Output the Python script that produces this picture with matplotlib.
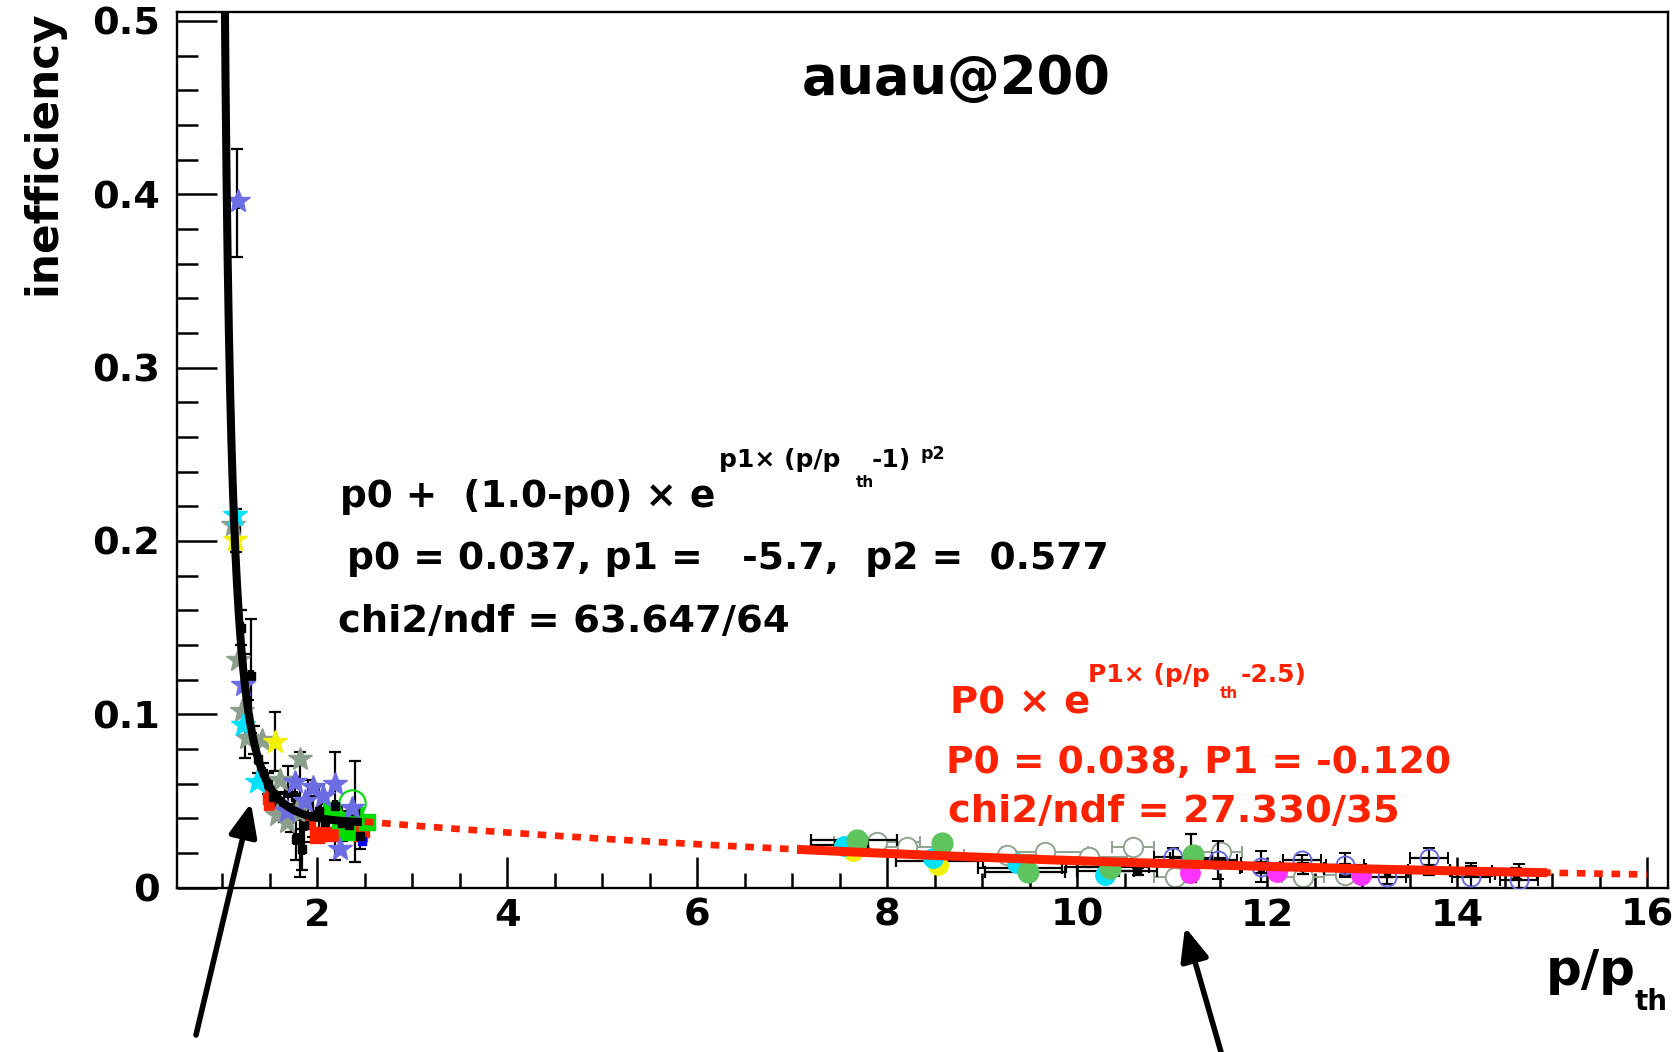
import numpy as np
import matplotlib
matplotlib.use("Agg")
import matplotlib.pyplot as plt
from matplotlib.patches import FancyArrowPatch, ArrowStyle
from matplotlib.ticker import MultipleLocator, FuncFormatter

# ---------------------------------------------------------------- fit results
p0, p1, p2 = 0.037, -5.7, 0.577          # low-momentum fit
P0, P1 = 0.038, -0.120                    # high-momentum fit
low_fit_range = (1.005, 2.47)
high_fit_range = (7.05, 14.95)
high_func_range = (2.5, 16.0)

# ---------------------------------------------------------------- low p/p_th data
blk_lo_x = [1.16, 1.14, 1.20, 1.24, 1.30, 1.27, 1.33, 1.38, 1.43, 1.48, 1.56, 1.53,
            1.60, 1.65, 1.69, 1.72, 1.77, 1.78, 1.82, 1.84, 1.86, 1.90, 1.96, 2.02,
            2.08, 2.19, 2.26, 2.33, 2.40, 2.45]
blk_lo_y = [0.395, 0.206, 0.150, 0.105, 0.122, 0.098, 0.085, 0.074, 0.066, 0.060, 0.084, 0.052,
            0.049, 0.046, 0.055, 0.040, 0.052, 0.028, 0.042, 0.022, 0.036, 0.048, 0.041, 0.044,
            0.038, 0.047, 0.037, 0.036, 0.044, 0.030]
blk_lo_yerr = [0.031, 0.0125, 0.010, 0.030, 0.033, 0.010, 0.008, 0.008, 0.006, 0.006, 0.017, 0.006,
               0.006, 0.008, 0.015, 0.008, 0.012, 0.012, 0.036, 0.012, 0.010, 0.014, 0.012, 0.015,
               0.010, 0.031, 0.010, 0.008, 0.029, 0.008]

grey_star_x = [1.116, 1.168, 1.21, 1.26, 1.42, 1.61, 1.58, 1.68, 1.79, 1.82]
grey_star_y = [0.209, 0.131, 0.102, 0.086, 0.085, 0.062, 0.042, 0.038, 0.044, 0.074]

blue_star_x = [1.17, 1.22, 1.68, 1.77, 1.87, 1.96, 2.06, 2.19, 2.24, 2.37]
blue_star_y = [0.396, 0.117, 0.044, 0.061, 0.050, 0.058, 0.053, 0.060, 0.022, 0.046]

yellow_star_x = [1.137, 1.56]
yellow_star_y = [0.2005, 0.084]

cyan_star_x = [1.137, 1.22, 1.365]
cyan_star_y = [0.215, 0.094, 0.061]

red_sq_x = [1.505, 1.51, 1.905, 2.00, 2.03, 2.14, 2.45, 2.47]
red_sq_y = [0.052, 0.049, 0.038, 0.030, 0.031, 0.031, 0.031, 0.033]

green_sq_x = [2.14, 2.24, 2.31, 2.40, 2.52]
green_sq_y = [0.045, 0.039, 0.032, 0.042, 0.038]

green_ring_x = [2.37]
green_ring_y = [0.0486]

blue_sq_x = [2.47]
blue_sq_y = [0.027]

# ---------------------------------------------------------------- high p/p_th data
blk_hi_x = [7.65, 7.50, 8.55, 9.40, 9.45, 10.32, 10.30, 10.64, 11.20, 11.50, 11.93,
            12.38, 12.82, 13.26, 13.70, 14.15, 14.62]
blk_hi_y = [0.0272, 0.0245, 0.0152, 0.0110, 0.0090, 0.0120, 0.0098, 0.0095, 0.0170, 0.0140,
            0.0115, 0.0110, 0.0105, 0.0090, 0.0100, 0.0095, 0.0080]
blk_hi_xerr = [0.45, 0.30, 0.46, 0.44, 0.42, 0.44, 0.30, 0.20, 0.22, 0.22, 0.22,
               0.22, 0.22, 0.22, 0.22, 0.22, 0.22]
blk_hi_yerr = [0.002, 0.002, 0.002, 0.002, 0.002, 0.002, 0.002, 0.002, 0.0138, 0.003, 0.003,
               0.003, 0.003, 0.003, 0.003, 0.003, 0.003]

green_dot_x = [7.68, 8.58, 9.48, 10.35, 11.22]
green_dot_y = [0.0274, 0.0257, 0.0091, 0.0112, 0.0188]

yellow_dot_x = [7.64, 8.54]
yellow_dot_y = [0.021, 0.013]

cyan_dot_x = [7.54, 8.48, 9.37, 10.29]
cyan_dot_y = [0.024, 0.017, 0.014, 0.0072]

magenta_dot_x = [11.19, 12.10, 12.99]
magenta_dot_y = [0.0082, 0.0090, 0.0072]

grey_ring_x = [7.89, 8.21, 9.26, 9.66, 10.12, 10.59, 11.03, 11.51, 12.38, 12.82]
grey_ring_y = [0.0264, 0.0236, 0.0187, 0.0207, 0.0178, 0.0236, 0.0060, 0.0207, 0.0062, 0.0072]
grey_ring_xerr = [0.45, 0.45, 0.45, 0.45, 0.40, 0.22, 0.22, 0.22, 0.22, 0.22]
grey_ring_yerr = [0.002, 0.002, 0.002, 0.002, 0.002, 0.003, 0.003, 0.003, 0.003, 0.003]

blue_ring_x = [11.01, 11.48, 11.93, 12.37, 12.82, 13.26, 13.70, 14.15, 14.65]
blue_ring_y = [0.0178, 0.0159, 0.0120, 0.0159, 0.0130, 0.0062, 0.0168, 0.0062, 0.0043]
blue_ring_yerr = [0.005, 0.011, 0.009, 0.003, 0.007, 0.004, 0.006, 0.008, 0.009]

# ---------------------------------------------------------------- axis setup
x_limits = (0.52, 16.22)
y_limits = (0.0, 0.505)
x_major, x_minor = 2, 0.5
y_major, y_minor = 0.1, 0.02

W, H, DPI = 1677, 1052, 100
RED = "#ff2200"
FONT = "DejaVu Sans"

fig = plt.figure(figsize=(W / DPI, H / DPI), dpi=DPI)
fig.patch.set_facecolor("white")
ax = fig.add_axes([176.7 / W, (H - 887.5) / H, (1668 - 176.7) / W, (887.5 - 12.3) / H])
ax.set_xlim(*x_limits)
ax.set_ylim(*y_limits)
for s in ax.spines.values():
    s.set_linewidth(1.7)

ax.xaxis.set_major_locator(MultipleLocator(x_major))
ax.xaxis.set_minor_locator(MultipleLocator(x_minor))
ax.yaxis.set_major_locator(MultipleLocator(y_major))
ax.yaxis.set_minor_locator(MultipleLocator(y_minor))
ax.xaxis.set_major_formatter(FuncFormatter(lambda v, p: f"{v:.0f}"))
ax.yaxis.set_major_formatter(FuncFormatter(lambda v, p: "0" if abs(v) < 1e-9 else f"{v:.1f}"))
ax.tick_params(axis="both", which="both", direction="in", top=False, right=False, width=1.8)
ax.tick_params(axis="y", which="major", length=29, pad=12)
ax.tick_params(axis="y", which="minor", length=15)
ax.tick_params(axis="x", which="major", length=22, pad=7.5)
ax.tick_params(axis="x", which="minor", length=11)
for lab in ax.get_xticklabels() + ax.get_yticklabels():
    lab.set_fontfamily(FONT)
    lab.set_fontweight("bold")
    lab.set_fontsize(27.5)

# ---------------------------------------------------------------- data points
eb = dict(capsize=4, elinewidth=1.6, capthick=1.6, linestyle="none")

# low-momentum region
ax.errorbar(blk_lo_x, blk_lo_y, yerr=blk_lo_yerr, xerr=0.02, fmt="s", color="black",
            ms=5.5, zorder=3, **eb)
ax.plot(grey_star_x, grey_star_y, "*", color="#8c9e8c", ms=18, mec="#8c9e8c", zorder=4)
ax.plot(blue_star_x, blue_star_y, "*", color="#6d6de3", ms=18, zorder=4)
ax.plot(yellow_star_x, yellow_star_y, "*", color="#f2f200", ms=18, zorder=4)
ax.plot(cyan_star_x, cyan_star_y, "*", color="#00e0ff", ms=18, zorder=4)
ax.plot(red_sq_x, red_sq_y, "s", color=RED, ms=10.5, zorder=3)
ax.plot(green_sq_x, green_sq_y, "s", color="#00dd00", ms=11, zorder=3)
ax.plot(green_ring_x, green_ring_y, "o", mfc="none", mec="#00dd00", mew=1.5, ms=19, zorder=3)
ax.plot(blue_sq_x, blue_sq_y, "s", color="#0000ff", ms=6, zorder=3)

# high-momentum region
ax.errorbar(grey_ring_x, grey_ring_y, xerr=grey_ring_xerr, yerr=grey_ring_yerr, fmt="o",
            mfc="white", mec="#8fa38f", ms=14, mew=1.4, ecolor="#8fa38f", capsize=4,
            elinewidth=1.4, linestyle="none", zorder=2)
ax.errorbar(blk_hi_x, blk_hi_y, xerr=blk_hi_xerr, yerr=blk_hi_yerr, fmt="s", color="black",
            ms=5, zorder=3, **eb)
ax.errorbar(blue_ring_x, blue_ring_y, yerr=blue_ring_yerr, xerr=0.2, fmt="o", mfc="none",
            mec="#6b6be0", ms=13, mew=1.4, ecolor="black", capsize=4, elinewidth=1.6,
            linestyle="none", zorder=3)
ax.plot(yellow_dot_x, yellow_dot_y, "o", color="#f2f200", ms=14, zorder=4)
ax.plot(cyan_dot_x, cyan_dot_y, "o", color="#00e0ff", ms=14, zorder=4)
ax.plot(green_dot_x, green_dot_y, "o", color="#5ec45e", ms=15, zorder=4)
ax.plot(magenta_dot_x, magenta_dot_y, "o", color="#ff33ff", ms=14, zorder=4)

# ---------------------------------------------------------------- fit functions
xl = np.linspace(*low_fit_range, 800)
ax.plot(xl, p0 + (1.0 - p0) * np.exp(p1 * (xl - 1.0) ** p2), color="black", lw=5.8,
        solid_capstyle="butt", zorder=6)

xf = np.linspace(*high_func_range, 500)
ax.plot(xf, P0 * np.exp(P1 * (xf - 2.5)), color=RED, lw=4.8, dashes=(1.3, 1.3),
        dash_capstyle="butt", zorder=5)
xs = np.linspace(*high_fit_range, 200)
ax.plot(xs, P0 * np.exp(P1 * (xs - 2.5)), color=RED, lw=6.5, solid_capstyle="butt", zorder=6)


# ---------------------------------------------------------------- text
def ftext(x_px, y_px, s, size, color="black", **kw):
    fig.text(x_px / W, 1 - y_px / H, s, fontsize=size, color=color, fontfamily=FONT,
             fontweight="bold", ha="left", va="baseline", **kw)


ftext(802, 94, "auau@200", 38)

ftext(340, 507, "p0 +  (1.0-p0) \u00d7 e", 27.0)
ftext(719, 467, "p1\u00d7 (p/p", 18)
ftext(856, 487, "th", 11)
ftext(872, 467, "-1)", 18)
ftext(920, 459, "p2", 12.5)
ftext(347, 569, "p0 = 0.037, p1 =   -5.7,  p2 =  0.577", 27.2)
ftext(338, 632, "chi2/ndf = 63.647/64", 27.7)

ftext(950, 713, "P0 \u00d7 e", 27.7, RED)
ftext(1088, 682, "P1\u00d7 (p/p", 18, RED)
ftext(1220, 698, "th", 11, RED)
ftext(1241, 682, "-2.5)", 18, RED)
ftext(946, 773, "P0 = 0.038, P1 = -0.120", 27.2, RED)
ftext(948, 822, "chi2/ndf = 27.330/35", 27.7, RED)

# axis titles
fig.text(43 / W, 1 - 10 / H, "inefficiency", rotation=90, fontsize=31.5, fontfamily=FONT,
         fontweight="bold", ha="center", va="top")
fig.text(1636 / W, 1 - 985 / H, "p/p", fontsize=36, fontfamily=FONT, fontweight="bold",
         ha="right", va="baseline")
fig.text(1635 / W, 1 - 1010 / H, "th", fontsize=20, fontfamily=FONT, fontweight="bold",
         ha="left", va="baseline")


# ---------------------------------------------------------------- arrows
def farrow(tail, tip):
    a = FancyArrowPatch((tail[0] / W, 1 - tail[1] / H), (tip[0] / W, 1 - tip[1] / H),
                        transform=fig.transFigure,
                        arrowstyle=ArrowStyle("-|>", head_length=20, head_width=8.5),
                        mutation_scale=1, lw=4.0, color="black", shrinkA=0, shrinkB=0)
    fig.add_artist(a)


farrow((196, 1035), (251, 803))
farrow((1221, 1052), (1185, 927))

fig.savefig("out.png", dpi=DPI)
